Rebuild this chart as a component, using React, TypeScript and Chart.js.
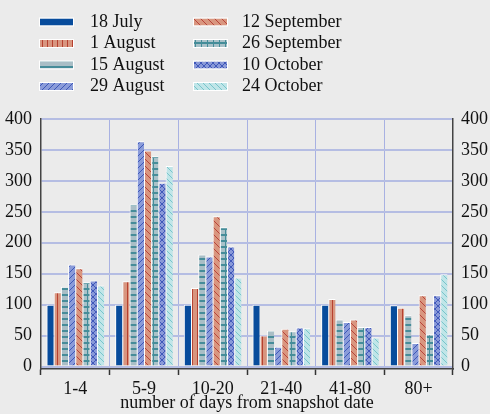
import React, { useEffect, useRef } from 'react';
import { Chart, registerables } from 'chart.js';

Chart.register(...registerables);

const categories = ['1-4', '5-9', '10-20', '21-40', '41-80', '80+'];
const seriesNames = ['18 July', '1 August', '15 August', '29 August', '12 September', '26 September', '10 October', '24 October'];
const july18 = [100, 100, 100, 100, 100, 99];
const aug1 = [120, 138, 127, 50, 109, 95];
const aug15 = [129, 262, 181, 58, 76, 83];
const aug29 = [165, 364, 178, 32, 72, 38];
const sep12 = [159, 349, 243, 61, 76, 115];
const sep26 = [136, 340, 225, 57, 64, 52];
const oct10 = [139, 297, 194, 63, 64, 115];
const oct24 = [131, 324, 144, 62, 47, 149];
const yTicks = [0, 50, 100, 150, 200, 250, 300, 350, 400];
const xTitle = 'number of days from snapshot date';

const FONT = "'Liberation Serif', 'Times New Roman', serif";

type Kind = 'solid' | 'vert' | 'horiz' | 'diagUp' | 'diagDown' | 'grid' | 'cross';
const styles: { bg: string; fg: string; kind: Kind; size: number }[] = [
  { bg: '#084c9c', fg: '#084c9c', kind: 'solid', size: 6 },
  { bg: '#d8957f', fg: '#b6402f', kind: 'vert', size: 5 },
  { bg: '#a9bec6', fg: '#468c99', kind: 'horiz', size: 6 },
  { bg: '#8a9bd9', fg: '#3d58b8', kind: 'diagUp', size: 6 },
  { bg: '#d9967f', fg: '#b8443a', kind: 'diagDown', size: 7 },
  { bg: '#a9c2c9', fg: '#458d99', kind: 'grid', size: 6 },
  { bg: '#8999d8', fg: '#4058ba', kind: 'cross', size: 6 },
  { bg: '#c0e5e8', fg: '#78c5cb', kind: 'diagDown', size: 6 },
];

function makePattern(ctx: CanvasRenderingContext2D, s: { bg: string; fg: string; kind: Kind; size: number }) {
  if (s.kind === 'solid') return s.bg;
  const c = document.createElement('canvas');
  const n = s.size;
  c.width = n;
  c.height = n;
  const g = c.getContext('2d')!;
  g.fillStyle = s.bg;
  g.fillRect(0, 0, n, n);
  g.fillStyle = s.fg;
  g.strokeStyle = s.fg;
  g.lineWidth = 1;
  const up = () => {
    g.beginPath();
    g.moveTo(-1, n + 1); g.lineTo(n + 1, -1);
    g.moveTo(-1, 1); g.lineTo(1, -1);
    g.moveTo(n - 1, n + 1); g.lineTo(n + 1, n - 1);
    g.stroke();
  };
  const down = () => {
    g.beginPath();
    g.moveTo(-1, -1); g.lineTo(n + 1, n + 1);
    g.moveTo(n - 1, -1); g.lineTo(n + 1, 1);
    g.moveTo(-1, n - 1); g.lineTo(1, n + 1);
    g.stroke();
  };
  if (s.kind === 'vert') g.fillRect(2, 0, 1, n);
  if (s.kind === 'horiz') g.fillRect(0, 0, n, 2);
  if (s.kind === 'diagUp') up();
  if (s.kind === 'diagDown') down();
  if (s.kind === 'grid') { g.fillRect(0, 0, n, 2); g.fillRect(3, 0, 1, n); }
  if (s.kind === 'cross') { up(); down(); }
  return ctx.createPattern(c, 'repeat')!;
}

export default function App() {
  const ref = useRef<HTMLCanvasElement>(null);
  useEffect(() => {
    document.body.style.margin = '0';
    document.body.style.background = '#ebebeb';
    const canvas = ref.current!;
    const ctx = canvas.getContext('2d')!;
    const patterns = styles.map((s) => makePattern(ctx, s));
    const series = [july18, aug1, aug15, aug29, sep12, sep26, oct10, oct24];

    const bgPlugin = {
      id: 'bg',
      beforeDraw(chart: any) {
        const c = chart.ctx;
        c.save();
        c.fillStyle = '#ebebeb';
        c.fillRect(0, 0, chart.width, chart.height);
        c.restore();
      },
    };
    const legendPlugin = {
      id: 'customLegend',
      afterDraw(chart: any) {
        const c = chart.ctx;
        c.save();
        const colSw = [40, 194];
        const colTx = [90, 242];
        const rows = [22, 43.5, 65, 86.5];
        seriesNames.forEach((name, i) => {
          const col = Math.floor(i / 4);
          const row = i % 4;
          const x = colSw[col];
          const yc = rows[row];
          c.fillStyle = patterns[i];
          c.fillRect(x, yc - 3.5, 33, 7);
          c.strokeStyle = '#ffffff';
          c.lineWidth = 1;
          c.strokeRect(x - 0.5, yc - 4, 34, 8);
          c.fillStyle = '#111111';
          c.font = `18px ${FONT}`;
          c.textAlign = 'left';
          c.textBaseline = 'alphabetic';
          c.fillText(name, colTx[col], yc + 4.5);
        });
        c.restore();
      },
    };

    const chart = new Chart(canvas, {
      type: 'bar',
      data: {
        labels: categories,
        datasets: seriesNames.map((name, i) => ({
          label: name,
          data: series[i],
          backgroundColor: patterns[i] as any,
          borderColor: '#ffffff',
          borderWidth: { top: 1, left: 1, right: 0, bottom: 0 },
          borderSkipped: 'start',
          categoryPercentage: 0.84,
          barPercentage: 1,
          yAxisID: 'y',
        })),
      },
      options: {
        responsive: false,
        animation: false,
        layout: { padding: { top: 119, left: 0, right: 0, bottom: 0 } },
        plugins: { legend: { display: false }, tooltip: { enabled: false } },
        scales: {
          x: {
            grid: { color: '#a8b1e2', lineWidth: 1, offset: true, drawTicks: true, tickLength: 6, tickColor: '#333333', tickWidth: 1.5 },
            border: { display: true, color: '#444444', width: 1.5 },
            ticks: { font: { family: FONT, size: 18 }, color: '#111111', padding: 3, maxRotation: 0 },
            title: { display: true, text: xTitle, font: { family: FONT, size: 18 }, color: '#111111', padding: { top: 0, bottom: 0 } },
            afterFit(scale: any) { scale.height = 45; },
          },
          y: {
            position: 'left',
            min: -4,
            max: 400,
            afterBuildTicks(scale: any) { scale.ticks = yTicks.map((v) => ({ value: v })); },
            grid: { color: '#b5bde3', lineWidth: 2, drawTicks: false },
            border: { display: true, color: '#444444', width: 1.5 },
            ticks: { font: { family: FONT, size: 18 }, color: '#111111', padding: 9 },
            afterFit(scale: any) { scale.width = 41; },
          },
          y2: {
            position: 'right',
            min: -4,
            max: 400,
            afterBuildTicks(scale: any) { scale.ticks = yTicks.map((v) => ({ value: v })); },
            grid: { display: false, drawTicks: false },
            border: { display: true, color: '#444444', width: 1.5 },
            ticks: { font: { family: FONT, size: 18 }, color: '#111111', padding: 8 },
            afterFit(scale: any) { scale.width = 37; },
          },
        },
      },
      plugins: [bgPlugin, legendPlugin],
    } as any);
    return () => chart.destroy();
  }, []);
  return (
    <div style={{ width: 490, height: 414 }}>
      <canvas ref={ref} width={490} height={414} style={{ display: 'block' }} />
    </div>
  );
}
